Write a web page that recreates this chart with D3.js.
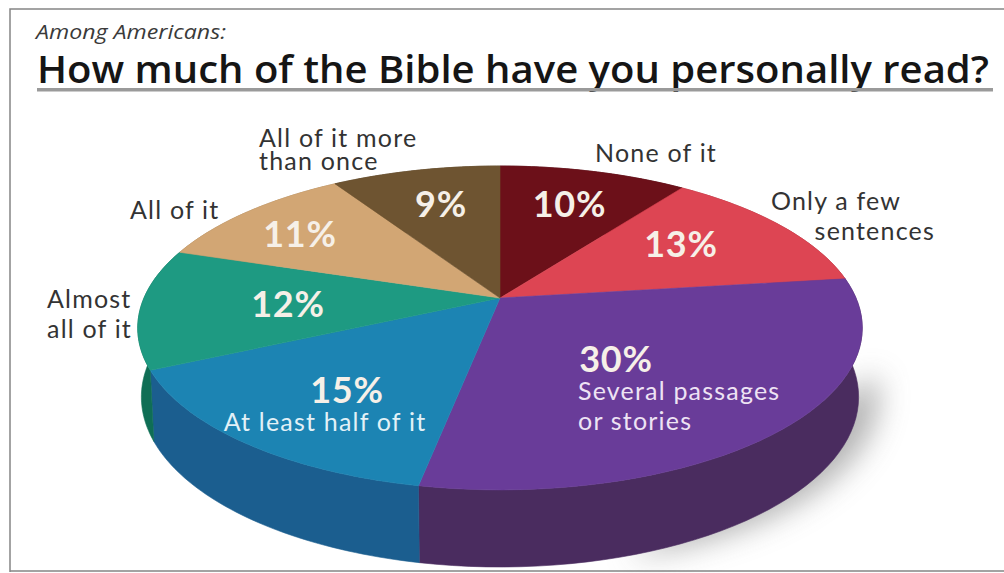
<!DOCTYPE html>
<html>
<head>
<meta charset="utf-8">
<style>
html,body{margin:0;padding:0;background:#fff}
svg{display:block}
</style>
<script src="https://cdn.jsdelivr.net/npm/d3@7"></script>
</head>
<body>
<svg id="chart" width="1004" height="573"></svg>
<script>
// Survey answers, clockwise from twelve o'clock
const answers = ["None of it","Only a few sentences","Several passages or stories","At least half of it","Almost all of it","All of it","All of it more than once"];
const shares = [10,13,30,15,12,11,9];
const topColors = ["#6c1019","#dd4553","#693c99","#1c84b3","#1e9a82","#d2a674","#6e5431"];
const sideColors = ["#4c0a14","#9c2a36","#4a2c5f","#1b5e8f","#0f6e55","#a07c50","#4f3c22"];

const svg = d3.select("#chart");
const defs = svg.append("defs");
defs.append("filter").attr("id","soft").attr("x","-20%").attr("y","-30%").attr("width","140%").attr("height","160%")
  .append("feGaussianBlur").attr("stdDeviation",15);

// Tilted disc: a unit circle seen in perspective, so the hub sits above the rim's centre
const tilt = 0.185;
const sx = d3.scaleLinear().domain([-1,1]).range([144,856]);
const sy = d3.scaleLinear().domain([-1,1]).range([141.6,454.4]);
const rimMid = sy((1 / (1 - tilt) - 1 / (1 + tilt)) / 2);
function project(angle, wide, tall, drop) {
  const X = Math.sin(angle), Y = -Math.cos(angle), w = 1 - tilt * Y;
  return [500 + (sx(X / w) - 500) * wide, rimMid + (sy(Y / w) - rimMid) * tall + drop];
}
const lower = {wide: 0.99, tall: 1.05, drop: 69};
const arcs = d3.pie().sort(null).value(d => d)(shares);
const line = d3.line();
const topRim = (a0, a1) => d3.range(0, 49).map(i => project(a0 + (a1 - a0) * i / 48, 1, 1, 0));
const lowRim = (a0, a1) => d3.range(0, 49).map(i => project(a0 + (a1 - a0) * i / 48, lower.wide, lower.tall, lower.drop));

// Frame
const frame = svg.append("g").attr("fill","none").attr("stroke","#858585").attr("stroke-width",1.5);
frame.append("path").attr("d", line([[10,572],[10,9],[1004,9]]));
frame.append("path").attr("d", line([[10,571],[1004,571]]));

// Soft shadow thrown down and to the right
svg.append("path").attr("filter","url(#soft)").attr("fill","#666").attr("opacity",0.5)
  .attr("d", line(lowRim(Math.PI*0.52, Math.PI*0.92).map(p => [p[0] + 20, p[1] - 2])) + "Z");

// Rim walls
svg.append("g").selectAll("path").data(arcs).join("path")
  .attr("fill",(d,i) => sideColors[i])
  .attr("stroke",(d,i) => sideColors[i]).attr("stroke-width",0.6)
  .attr("d", d => line(topRim(d.startAngle,d.endAngle).concat(lowRim(d.endAngle,d.startAngle))) + "Z");

// Top face
svg.append("g").selectAll("path").data(arcs).join("path")
  .attr("fill",(d,i) => topColors[i])
  .attr("stroke",(d,i) => topColors[i]).attr("stroke-width",0.6)
  .attr("d", d => line([[500, sy(0)]].concat(topRim(d.startAngle,d.endAngle))) + "Z");

// Headings
svg.append("text").attr("x",36).attr("y",39).attr("font-family","Open Sans").attr("font-style","italic").attr("font-size",20).attr("fill","#3a3a3a").attr("textLength",190).attr("lengthAdjust","spacingAndGlyphs").text("Among Americans:");
svg.append("text").attr("x",37).attr("y",83).attr("font-family","Open Sans").attr("font-weight",600).attr("font-size",37.5).attr("fill","#151515").attr("textLength",952).attr("lengthAdjust","spacingAndGlyphs").text("How much of the Bible have you personally read?");
svg.append("rect").attr("x",37).attr("y",88).attr("width",956).attr("height",3.5).attr("fill","#9a9a9a");

// Callouts on and around the disc
const pctLabels = [
  {t:"10%",x:569.5,y:217},{t:"13%",x:681,y:257},{t:"30%",x:616,y:372},
  {t:"15%",x:347,y:403},{t:"12%",x:288,y:317},{t:"11%",x:300,y:247},{t:"9%",x:441,y:217}
];
const nameLabels = [
  {lines:["None of it"],x:595,y:162,c:"#333"},
  {lines:["Only a few"],x:771,y:210,c:"#333"},
  {lines:["sentences"],x:935,y:240,a:"end",c:"#333"},
  {lines:["Several passages","or stories"],x:578,y:400,dy:30,c:"#eee3f4"},
  {lines:["At least half of it"],x:325,y:431,a:"middle",c:"#e2f1f7"},
  {lines:["Almost","all of it"],x:47,y:308,dy:30,c:"#333"},
  {lines:["All of it"],x:130,y:219,c:"#333"},
  {lines:["All of it more","than once"],x:259,y:147,dy:23,c:"#333"}
];
svg.append("g").selectAll("text").data(pctLabels).join("text")
  .attr("x",d=>d.x).attr("y",d=>d.y).attr("text-anchor","middle")
  .attr("font-family","Lato").attr("font-weight",700).attr("font-size",36).attr("letter-spacing",0.8).attr("fill","#f6f0e8").text(d=>d.t);
const names = svg.append("g").selectAll("text").data(nameLabels).join("text")
  .attr("y",d=>d.y).attr("text-anchor",d=>d.a||"start")
  .attr("font-family","Lato").attr("font-size",25).attr("letter-spacing",1.2).attr("fill",d=>d.c);
names.selectAll("tspan").data(d => d.lines.map((s,i) => ({s, i, x:d.x, dy:d.dy}))).join("tspan")
  .attr("x",d=>d.x).attr("dy",d=>d.i ? d.dy : 0).text(d=>d.s);
</script>
</body>
</html>
